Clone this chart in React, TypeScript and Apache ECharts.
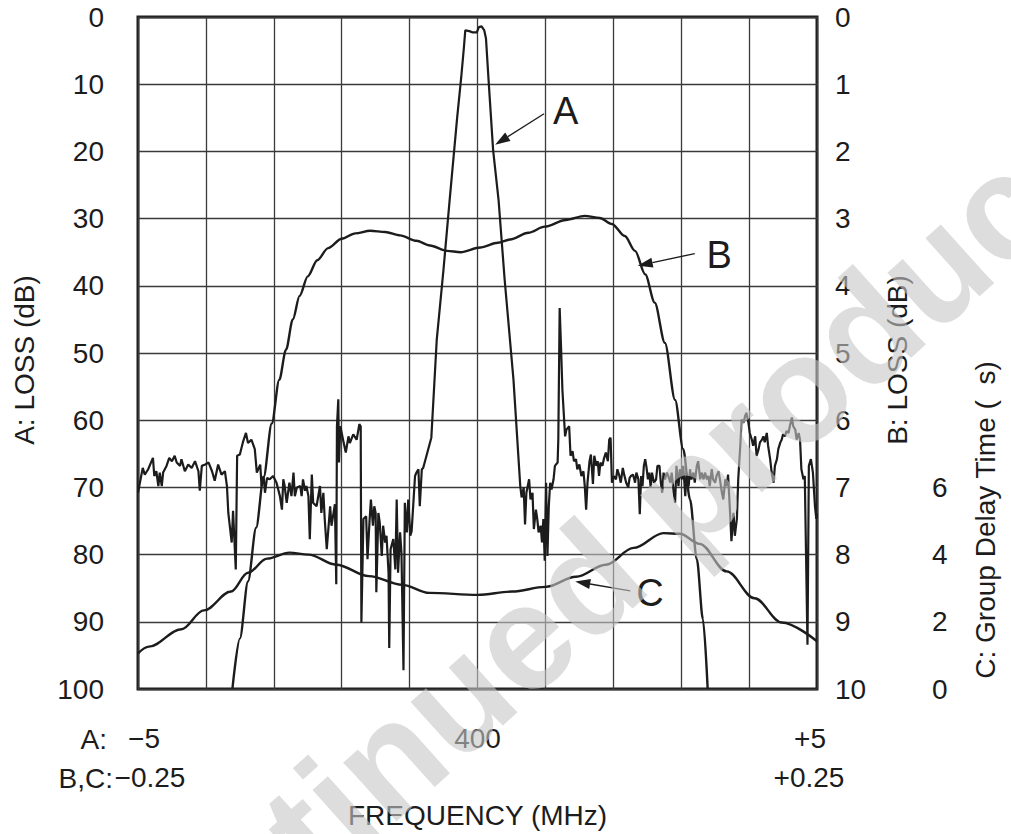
import React, { useEffect, useRef } from "react";
import * as echarts from "echarts";

// A trace: frequency offset from 400 MHz (MHz, span ±5) and loss (dB)
const aFreq = [
  -5.0, -4.93, -4.9, -4.85, -4.78, -4.76, -4.73, -4.7, -4.68, -4.65, -4.63, -4.58, -4.54, -4.5, -4.46, -4.43,
  -4.38, -4.36, -4.31, -4.26, -4.21, -4.16, -4.11, -4.09, -4.06, -4.01, -3.96, -3.91, -3.87, -3.82, -3.77, -3.72,
  -3.69, -3.67, -3.62, -3.6, -3.56, -3.54, -3.5, -3.45, -3.41, -3.38, -3.33, -3.28, -3.25, -3.2, -3.18, -3.15,
  -3.13, -3.1, -3.06, -3.01, -2.96, -2.91, -2.88, -2.86, -2.84, -2.81, -2.77, -2.74, -2.71, -2.69, -2.66, -2.61,
  -2.59, -2.57, -2.54, -2.52, -2.49, -2.47, -2.44, -2.42, -2.37, -2.32, -2.3, -2.27, -2.25, -2.22, -2.17, -2.15,
  -2.12, -2.1, -2.08, -2.07, -2.05, -2.04, -2.02, -1.98, -1.94, -1.9, -1.88, -1.83, -1.78, -1.74, -1.72, -1.71,
  -1.68, -1.64, -1.62, -1.59, -1.57, -1.54, -1.52, -1.5, -1.49, -1.46, -1.44, -1.41, -1.39, -1.36, -1.34, -1.31,
  -1.3, -1.28, -1.24, -1.21, -1.19, -1.17, -1.14, -1.12, -1.09, -1.07, -1.04, -1.02, -0.99, -0.97, -0.92, -0.9,
  -0.87, -0.85, -0.82, -0.8, -0.68, -0.6, -0.5, -0.41, -0.3, -0.24, -0.2, -0.18, -0.12, -0.07, -0.01, 0.02,
  0.06, 0.1, 0.125, 0.16, 0.23, 0.31, 0.4, 0.53, 0.63, 0.65, 0.68, 0.7, 0.72, 0.76, 0.78, 0.81,
  0.83, 0.86, 0.88, 0.9, 0.93, 0.95, 0.97, 0.99, 1.01, 1.03, 1.05, 1.07, 1.09, 1.12, 1.14, 1.18,
  1.19, 1.21, 1.23, 1.25, 1.29, 1.31, 1.35, 1.37, 1.4, 1.42, 1.45, 1.47, 1.5, 1.53, 1.56, 1.58,
  1.6, 1.62, 1.65, 1.67, 1.7, 1.72, 1.75, 1.77, 1.79, 1.81, 1.84, 1.86, 1.89, 1.92, 1.94, 1.96,
  1.98, 2.01, 2.04, 2.06, 2.09, 2.11, 2.14, 2.16, 2.19, 2.22, 2.24, 2.26, 2.29, 2.31, 2.32, 2.34,
  2.37, 2.39, 2.41, 2.43, 2.45, 2.47, 2.49, 2.51, 2.53, 2.55, 2.57, 2.6, 2.63, 2.65, 2.68, 2.7,
  2.72, 2.74, 2.76, 2.79, 2.81, 2.84, 2.86, 2.89, 2.91, 2.93, 2.96, 2.98, 3.01, 3.03, 3.06, 3.08,
  3.11, 3.13, 3.15, 3.18, 3.2, 3.23, 3.25, 3.28, 3.3, 3.33, 3.35, 3.38, 3.4, 3.42, 3.45, 3.47,
  3.5, 3.52, 3.55, 3.57, 3.6, 3.62, 3.65, 3.67, 3.69, 3.72, 3.74, 3.77, 3.79, 3.82, 3.84, 3.87,
  3.89, 3.92, 3.94, 3.96, 3.99, 4.01, 4.04, 4.06, 4.09, 4.11, 4.14, 4.16, 4.19, 4.21, 4.23, 4.26,
  4.28, 4.31, 4.33, 4.36, 4.38, 4.41, 4.43, 4.46, 4.48, 4.5, 4.53, 4.55, 4.58, 4.6, 4.63, 4.65,
  4.68, 4.7, 4.73, 4.75, 4.77, 4.8, 4.82, 4.86, 4.88, 4.91, 4.94, 4.97, 4.99, 5.0,
];
const aLoss = [
  70.8, 67.1, 68.1, 67.3, 65.6, 68.3, 67.6, 69.8, 67.8, 69.8, 67.8, 66.8, 65.6, 66.1, 65.3, 66.3,
  66.8, 65.8, 67.6, 66.6, 67.1, 66.1, 67.6, 70.5, 66.8, 66.6, 66.3, 67.6, 69.0, 66.6, 68.1, 67.6,
  69.8, 73.8, 78.2, 73.5, 82.2, 65.3, 65.1, 63.1, 61.9, 63.4, 62.9, 64.3, 67.8, 66.6, 69.8, 68.3,
  70.8, 68.6, 68.8, 68.3, 69.3, 71.3, 73.3, 68.8, 69.8, 72.3, 69.3, 71.3, 67.8, 71.3, 70.0, 69.8,
  71.3, 68.8, 70.5, 69.8, 71.3, 77.7, 68.1, 72.3, 72.8, 69.8, 73.8, 70.8, 74.7, 79.2, 72.8, 75.7,
  73.8, 72.5, 84.4, 60.9, 56.9, 66.3, 60.9, 62.9, 64.8, 62.4, 63.4, 62.1, 62.9, 60.6, 60.9, 90.1,
  74.7, 74.3, 80.7, 75.0, 71.8, 75.7, 72.8, 73.8, 85.6, 73.8, 75.2, 80.2, 75.7, 78.2, 77.2, 82.7,
  93.9, 79.2, 77.7, 82.2, 71.8, 82.7, 76.7, 79.7, 97.2, 72.3, 76.7, 71.8, 77.2, 76.5, 68.3, 67.8,
  67.3, 72.8, 67.3, 67.1, 62.6, 48.0, 37.5, 27.2, 15.0, 9.0, 4.5, 2.0, 2.1, 2.3, 2.3, 1.5,
  1.4, 2.0, 3.2, 8.9, 19.8, 27.2, 39.1, 54.0, 69.8, 71.5, 70.0, 75.5, 70.8, 68.8, 71.8, 70.8,
  76.2, 73.3, 74.7, 76.7, 75.7, 78.2, 74.7, 80.9, 69.3, 80.2, 72.8, 69.3, 70.3, 68.8, 66.8, 66.3,
  62.9, 43.3, 49.0, 55.4, 62.4, 61.4, 60.9, 65.3, 64.6, 66.1, 65.8, 67.3, 66.6, 68.3, 67.6, 69.8,
  73.3, 69.3, 66.1, 65.1, 69.5, 65.3, 66.8, 66.1, 68.3, 66.3, 66.8, 65.8, 64.8, 66.1, 62.9, 62.6,
  69.3, 68.3, 68.8, 67.3, 68.3, 69.3, 67.1, 68.1, 69.3, 70.0, 68.6, 68.3, 68.1, 68.8, 69.3, 67.8,
  68.8, 74.0, 68.3, 69.8, 66.8, 65.8, 67.1, 68.8, 67.8, 70.0, 67.8, 69.3, 68.8, 66.8, 66.8, 69.3,
  70.8, 67.8, 68.8, 67.8, 68.3, 69.3, 67.8, 70.8, 72.3, 66.8, 69.8, 67.3, 68.8, 66.8, 71.3, 67.8,
  69.8, 67.3, 68.8, 67.8, 69.3, 66.8, 66.1, 68.8, 67.8, 68.8, 67.8, 68.8, 68.3, 69.8, 67.3, 68.8,
  69.3, 68.3, 67.6, 68.8, 70.8, 71.8, 68.8, 69.8, 68.1, 73.8, 78.0, 73.8, 77.2, 74.7, 68.8, 63.8,
  59.9, 60.4, 59.4, 58.9, 60.4, 61.9, 62.9, 63.8, 62.4, 65.3, 64.3, 63.3, 62.9, 62.4, 63.3, 61.9,
  63.8, 65.8, 67.6, 69.3, 66.8, 65.8, 64.3, 63.3, 62.9, 62.1, 62.4, 61.6, 61.9, 60.9, 59.6, 60.9,
  61.4, 62.9, 61.9, 62.9, 67.3, 68.8, 68.3, 93.4, 66.8, 65.8, 67.8, 72.8, 74.7, 73.9,
];

// B trace: frequency offset (MHz, span ±0.25) and loss (dB)
const bFreq = [
  -0.1805, -0.175, -0.169, -0.163, -0.1575, -0.1515, -0.146, -0.141, -0.136, -0.131, -0.125, -0.118, -0.11, -0.1,
  -0.09, -0.079, -0.068, -0.057, -0.045, -0.035, -0.0225, -0.0125, 0.002, 0.015, 0.024, 0.0375, 0.0495, 0.065,
  0.079, 0.09, 0.099, 0.1085, 0.116, 0.1235, 0.1305, 0.138, 0.1455, 0.1515, 0.1565, 0.1615, 0.166, 0.1695,
];
const bLoss = [
  10.0, 9.25, 8.4, 7.6, 6.85, 6.05, 5.4, 4.95, 4.5, 4.15, 3.86, 3.62, 3.44, 3.3,
  3.22, 3.18, 3.2, 3.25, 3.33, 3.4, 3.48, 3.5, 3.43, 3.36, 3.31, 3.21, 3.12, 3.02,
  2.96, 2.99, 3.08, 3.26, 3.48, 3.83, 4.25, 4.85, 5.7, 6.43, 7.18, 8.07, 8.96, 10.0,
];

// C trace: frequency offset (MHz, span ±0.25) and group delay time (µs)
const cFreq = [
  -0.25, -0.242, -0.218, -0.2015, -0.1815, -0.169, -0.155, -0.1385, -0.1245, -0.104, -0.08, -0.0555, -0.0355,
  0, 0.0255, 0.05, 0.0725, 0.0945, 0.115, 0.137, 0.149, 0.1635, 0.1835, 0.204, 0.224, 0.25,
];
const cDelay = [
  1.06, 1.26, 1.78, 2.34, 2.9, 3.46, 3.88, 4.06, 4.0, 3.7, 3.36, 3.1, 2.86,
  2.8, 2.9, 3.04, 3.34, 3.7, 4.2, 4.64, 4.62, 4.32, 3.5, 2.7, 1.98, 1.42,
];

// Curve call-outs: label position and arrow tail/tip, in A-axis units (MHz offset, dB)
const calloutNames = ["A", "B", "C"];
const calloutText = [[1.3, 14.0], [3.56, 35.4], [2.54, 85.7]];
const calloutTail = [[0.98, 14.4], [3.2, 35.2], [2.25, 85.4]];
const calloutTip = [[0.26, 19.0], [2.36, 37.0], [1.44, 84.0]];

const FONT = "'Liberation Sans', Arial, Helvetica, sans-serif";
const INK = "#1c1c1c";

export default function App() {
  const ref = useRef<HTMLDivElement>(null);
  useEffect(() => {
    document.body.style.margin = "0";
    const chart = echarts.init(ref.current!, null, { renderer: "svg" });
    const zip = (xs: number[], ys: number[]) => xs.map((x, i) => [x, ys[i]]);
    const lblStyle = { color: INK, fontSize: 28, fontFamily: FONT };
    const richBase = { color: INK, fontSize: 28, fontFamily: FONT };
    const option: any = {
      animation: false,
      backgroundColor: "#ffffff",
      grid: {
        left: 138, top: 17, width: 679, height: 673,
        show: true, borderColor: INK, borderWidth: 3, backgroundColor: "transparent",
      },
      xAxis: [
        {
          type: "value", min: -5, max: 5, interval: 1, position: "bottom",
          axisLine: { show: false }, axisTick: { show: false },
          splitLine: { show: true, lineStyle: { color: "#3a3a3a", width: 1.3 } },
          axisLabel: {
            ...lblStyle, margin: 35, showMinLabel: true, showMaxLabel: true,
            formatter: (v: number) => (v === -5 ? "{lo|\u22125}" : v === 0 ? "400" : v === 5 ? "{hi|+5}" : ""),
            rich: {
              lo: { ...richBase, padding: [0, 0, 0, 12] },
              hi: { ...richBase, padding: [0, 14, 0, 0] },
            },
          },
          name: "FREQUENCY (MHz)", nameLocation: "middle", nameGap: 112,
          nameTextStyle: { ...lblStyle },
        },
        {
          type: "value", min: -0.25, max: 0.25, interval: 0.05, position: "bottom", offset: 39,
          axisLine: { show: false }, axisTick: { show: false }, splitLine: { show: false },
          axisLabel: {
            ...lblStyle, margin: 35, showMinLabel: true, showMaxLabel: true,
            formatter: (v: number) =>
              Math.abs(v + 0.25) < 1e-9 ? "{lo|\u22120.25}" : Math.abs(v - 0.25) < 1e-9 ? "{hi|+0.25}" : "",
            rich: {
              lo: { ...richBase, padding: [0, 0, 0, 24] },
              hi: { ...richBase, padding: [0, 16, 0, 0] },
            },
          },
        },
      ],
      yAxis: [
        {
          type: "value", min: 0, max: 100, interval: 10, inverse: true, position: "left",
          axisLine: { show: false }, axisTick: { show: false },
          splitLine: { show: true, lineStyle: { color: "#3a3a3a", width: 1.3 } },
          axisLabel: { ...lblStyle, margin: 34, padding: [6, 0, 0, 0] },
          name: "A: LOSS (dB)", nameLocation: "middle", nameGap: 100, nameRotate: 90,
          nameTextStyle: { ...lblStyle, padding: [0, 14, 0, 0] },
        },
        {
          type: "value", min: 0, max: 10, interval: 1, inverse: true, position: "right",
          axisLine: { show: false }, axisTick: { show: false }, splitLine: { show: false },
          axisLabel: { ...lblStyle, margin: 18, padding: [8, 0, 0, 0] },
          name: "B: LOSS (dB)", nameLocation: "middle", nameGap: 66, nameRotate: 90,
          nameTextStyle: { ...lblStyle, padding: [0, 14, 0, 0] },
        },
        {
          type: "value", min: 0, max: 20, interval: 2, position: "right", offset: 97,
          axisLine: { show: false }, axisTick: { show: false }, splitLine: { show: false },
          axisLabel: {
            ...lblStyle, margin: 18, padding: [8, 0, 0, 0],
            formatter: (v: number) => (v <= 6 ? String(v) : ""),
          },
        },
      ],
      series: [
        {
          type: "line", name: "A", xAxisIndex: 0, yAxisIndex: 0, data: zip(aFreq, aLoss),
          showSymbol: false, symbol: "none", lineStyle: { color: INK, width: 2.2 }, z: 5,
        },
        {
          type: "line", name: "B", xAxisIndex: 1, yAxisIndex: 1, data: zip(bFreq, bLoss),
          showSymbol: false, symbol: "none", smooth: 0.3, smoothMonotone: "x",
          lineStyle: { color: INK, width: 2.4 }, z: 5,
        },
        {
          type: "line", name: "C", xAxisIndex: 1, yAxisIndex: 2, data: zip(cFreq, cDelay),
          showSymbol: false, symbol: "none", smooth: 0.35, smoothMonotone: "x",
          lineStyle: { color: INK, width: 2.4 }, z: 5,
        },
      ],
    };
    chart.setOption(option);

    const px = (p: number[]) => chart.convertToPixel({ xAxisIndex: 0, yAxisIndex: 0 }, p) as number[];
    const graphics: any[] = [];
    calloutNames.forEach((name, i) => {
      const t = px(calloutText[i]);
      const a = px(calloutTail[i]);
      const b = px(calloutTip[i]);
      const dx = b[0] - a[0];
      const dy = b[1] - a[1];
      const len = Math.hypot(dx, dy);
      const ux = dx / len;
      const uy = dy / len;
      const L = 15;
      const W = 5;
      const bx = b[0] - ux * L;
      const by = b[1] - uy * L;
      graphics.push({
        type: "line", z: 20,
        shape: { x1: a[0], y1: a[1], x2: bx, y2: by },
        style: { stroke: INK, lineWidth: 1.3 },
      });
      graphics.push({
        type: "polygon", z: 20,
        shape: { points: [[b[0], b[1]], [bx - uy * W, by + ux * W], [bx + uy * W, by - ux * W]] },
        style: { fill: INK },
      });
      graphics.push({
        type: "text", z: 20, x: t[0], y: t[1],
        style: { text: name, fill: INK, font: `38px ${FONT}`, textAlign: "center", textVerticalAlign: "middle" },
      });
    });
    // prefixes of the two frequency scales
    graphics.push({
      type: "text", z: 20, x: 107, y: 739,
      style: { text: "A:", fill: INK, font: `28px ${FONT}`, textAlign: "right", textVerticalAlign: "middle" },
    });
    graphics.push({
      type: "text", z: 20, x: 113, y: 778,
      style: { text: "B,C:", fill: INK, font: `28px ${FONT}`, textAlign: "right", textVerticalAlign: "middle" },
    });
    // C axis title
    graphics.push({
      type: "text", z: 20, x: 985, y: 520, rotation: Math.PI / 2,
      style: { text: "C: Group Delay Time (  s)", fill: INK, font: `28px ${FONT}`, textAlign: "center", textVerticalAlign: "middle" },
    });
    // watermark
    graphics.push({
      type: "text", z: 100, x: 490, y: 667, rotation: (42 * Math.PI) / 180,
      style: {
        text: "Discontinued product", fill: "rgba(198,198,198,0.6)",
        font: `bold 150px ${FONT}`, textAlign: "center", textVerticalAlign: "middle",
      },
    });
    chart.setOption({ graphic: graphics });
    return () => chart.dispose();
  }, []);
  return <div ref={ref} style={{ width: 1011, height: 834 }} />;
}
